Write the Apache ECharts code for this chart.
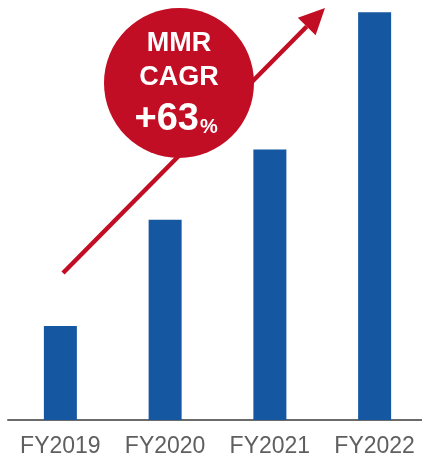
<!DOCTYPE html>
<html>
<head>
<meta charset="utf-8">
<script src="https://cdn.jsdelivr.net/npm/echarts@6/dist/echarts.min.js"></script>
<style>
  html, body { margin: 0; padding: 0; background: #fff; }
  #chart { width: 422px; height: 459px; }
</style>
</head>
<body>
<div id="chart"></div>
<script>
// MMR index, FY2019 = 1
const years = ["FY2019", "FY2020", "FY2021", "FY2022"];
const mmr = [1.00, 2.13, 2.88, 4.34];
const yMax = 4.47;

const barColor = "#1557a0";
const red = "#c20e24";

// arrow (pixels)
const arrowFrom = [63, 273];
const arrowTip = [325, 8];
const headLen = 26, headHalf = 12.5;

let dx = arrowTip[0] - arrowFrom[0], dy = arrowTip[1] - arrowFrom[1];
let len = Math.sqrt(dx * dx + dy * dy);
let ux = dx / len, uy = dy / len;
let base = [arrowTip[0] - headLen * ux, arrowTip[1] - headLen * uy];
let head = [
    arrowTip,
    [base[0] - headHalf * uy, base[1] + headHalf * ux],
    [base[0] + headHalf * uy, base[1] - headHalf * ux]
];

const font = "'Liberation Sans', Arial, sans-serif";
const cx = 179, cy = 83, cr = 75;

let chart = echarts.init(document.getElementById("chart"));
chart.setOption({
    animation: false,
    grid: { left: 8, width: 419, top: 0, bottom: 39, outerBoundsMode: "none" },
    xAxis: {
        type: "category",
        data: years,
        axisLine: { lineStyle: { color: "#6b6b6b", width: 2 } },
        axisTick: { show: false },
        axisLabel: { interval: 0, color: "#5f5f5f", fontSize: 23, fontFamily: font, margin: 15 }
    },
    yAxis: {
        type: "value",
        min: 0,
        max: yMax,
        show: false,
        splitLine: { show: false }
    },
    series: [{
        type: "bar",
        data: mmr,
        barWidth: 33,
        itemStyle: { color: barColor }
    }],
    graphic: [
        {
            type: "line",
            z: 10,
            shape: { x1: arrowFrom[0], y1: arrowFrom[1], x2: base[0], y2: base[1] },
            style: { stroke: red, lineWidth: 4.5 }
        },
        {
            type: "polygon",
            z: 10,
            shape: { points: head },
            style: { fill: red }
        },
        {
            type: "circle",
            z: 20,
            shape: { cx: cx, cy: cy, r: cr },
            style: { fill: red }
        },
        {
            type: "text", z: 30, x: cx, y: 44,
            style: { text: "MMR", fill: "#fff", font: "bold 27px " + font, align: "center", verticalAlign: "middle" }
        },
        {
            type: "text", z: 30, x: cx, y: 78,
            style: { text: "CAGR", fill: "#fff", font: "bold 27px " + font, align: "center", verticalAlign: "middle" }
        },
        {
            type: "text", z: 30, x: 199, y: 120,
            style: { text: "+63", fill: "#fff", font: "bold 38px " + font, align: "right", verticalAlign: "middle" }
        },
        {
            type: "text", z: 30, x: 200, y: 127,
            style: { text: "%", fill: "#fff", font: "bold 20px " + font, align: "left", verticalAlign: "middle" }
        }
    ]
});
</script>
</body>
</html>
